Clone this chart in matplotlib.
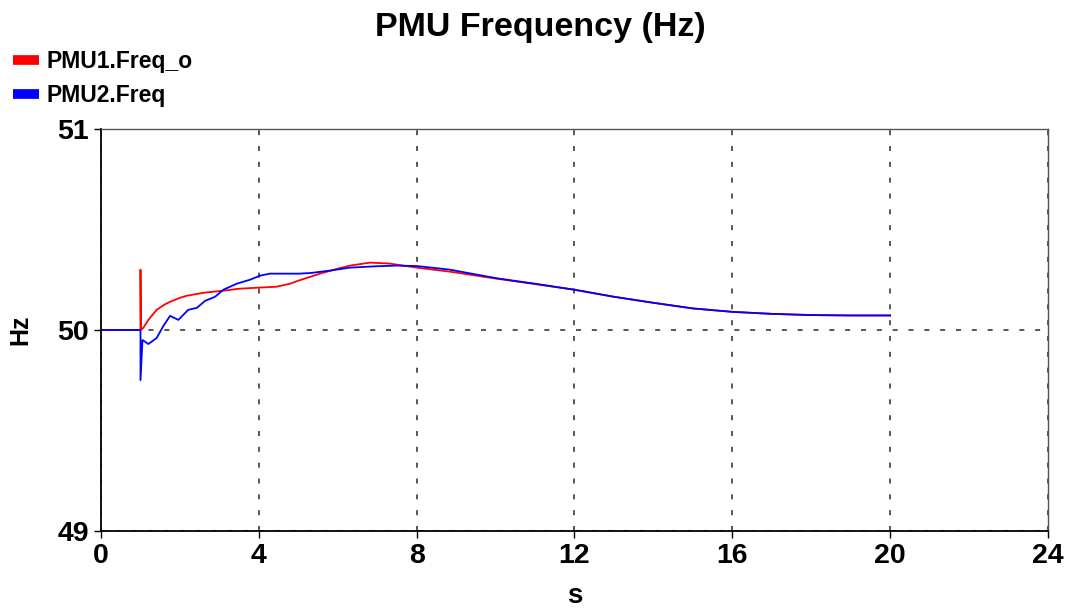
import matplotlib
matplotlib.use("Agg")
import matplotlib.pyplot as plt
from matplotlib.lines import Line2D

plt.rcParams['font.family'] = ['Liberation Sans', 'DejaVu Sans']
plt.rcParams['font.weight'] = 'bold'

# PMU1 frequency (red)
t_pmu1 = [0, 1.0, 1.0, 1.01, 1.07, 1.2, 1.41, 1.6, 1.75, 2.0, 2.17, 2.6, 3.09, 3.5, 3.95, 4.45,
          4.79, 5.0, 5.55, 6.0, 6.31, 6.82, 7.32, 8.0, 8.84, 10.03, 11, 12, 13, 14, 15, 16, 17, 18,
          19, 20]
f_pmu1 = [50.0, 50.0, 50.30, 50.0, 50.01, 50.05, 50.10, 50.125, 50.14, 50.16, 50.17, 50.185,
          50.195, 50.205, 50.21, 50.215, 50.23, 50.245, 50.28, 50.305, 50.32, 50.335, 50.33, 50.31,
          50.29, 50.255, 50.228, 50.2, 50.165, 50.135, 50.107, 50.09, 50.08, 50.074, 50.072, 50.072]

# PMU2 frequency (blue)
t_pmu2 = [0, 1.0, 1.0, 1.05, 1.2, 1.41, 1.58, 1.75, 1.96, 2.21, 2.43, 2.64, 2.89, 3.10, 3.44,
          3.78, 4.03, 4.28, 5.0, 5.3, 5.8, 6.31, 7.0, 7.5, 8.0, 8.84, 10.03, 11, 12, 13, 14, 15, 16,
          17, 18, 19, 20]
f_pmu2 = [50.0, 50.0, 49.75, 49.95, 49.93, 49.96, 50.02, 50.07, 50.05, 50.10, 50.11, 50.145,
          50.165, 50.20, 50.23, 50.25, 50.27, 50.28, 50.28, 50.283, 50.295, 50.31, 50.317, 50.32,
          50.318, 50.30, 50.257, 50.23, 50.2, 50.165, 50.135, 50.107, 50.09, 50.08, 50.074, 50.072,
          50.072]

x_ticks = [0, 4, 8, 12, 16, 20, 24]
y_ticks = [49, 50, 51]

fig = plt.figure(figsize=(10.76, 6.11), dpi=100)
ax = fig.add_axes([0.0939, 0.131, 0.880, 0.658])

ax.plot(t_pmu1, f_pmu1, color='#ff0000', lw=1.3)
ax.plot(t_pmu2, f_pmu2, color='#0000ff', lw=1.3)

ax.set_xlim(0, 24)
ax.set_ylim(49, 51)
ax.set_xticks(x_ticks)
ax.set_yticks(y_ticks)
ax.tick_params(labelsize=20.5, direction='out', length=5, width=1)
for lbl in ax.get_xticklabels() + ax.get_yticklabels():
    lbl.set_fontweight('bold')

ax.grid(True, linestyle=(0, (3, 6.5)), color='#3a3a3a', lw=1.2)
ax.spines['left'].set_linewidth(1.3)
ax.spines['bottom'].set_linewidth(1.3)
for s in ['top', 'right']:
    ax.spines[s].set_color('#555555')
    ax.spines[s].set_linewidth(1.0)

# axis labels
fig.text(575 / 1076, 0.003, 's', ha='center', va='bottom', fontsize=20, fontweight='bold')
fig.text(20 / 1076, 1 - 330 / 611, 'Hz', ha='center', va='center', rotation=90,
         fontsize=18, fontweight='bold')

fig.text(0.502, 0.955, 'PMU Frequency (Hz)', ha='center', va='center', fontsize=24.5,
         fontweight='bold')

handles = [Line2D([], [], color='#ff0000', lw=7, solid_capstyle='butt'),
           Line2D([], [], color='#0000ff', lw=7, solid_capstyle='butt')]
fig.legend(handles, ['PMU1.Freq_o', 'PMU2.Freq'], loc='upper left',
           bbox_to_anchor=(13 / 1076, 1 - 50 / 611), frameon=False,
           prop={'size': 16.5, 'weight': 'bold'}, handlelength=1.13,
           handletextpad=0.32, labelspacing=0.48, borderaxespad=0, borderpad=0)

fig.savefig('out.png', dpi=100)
